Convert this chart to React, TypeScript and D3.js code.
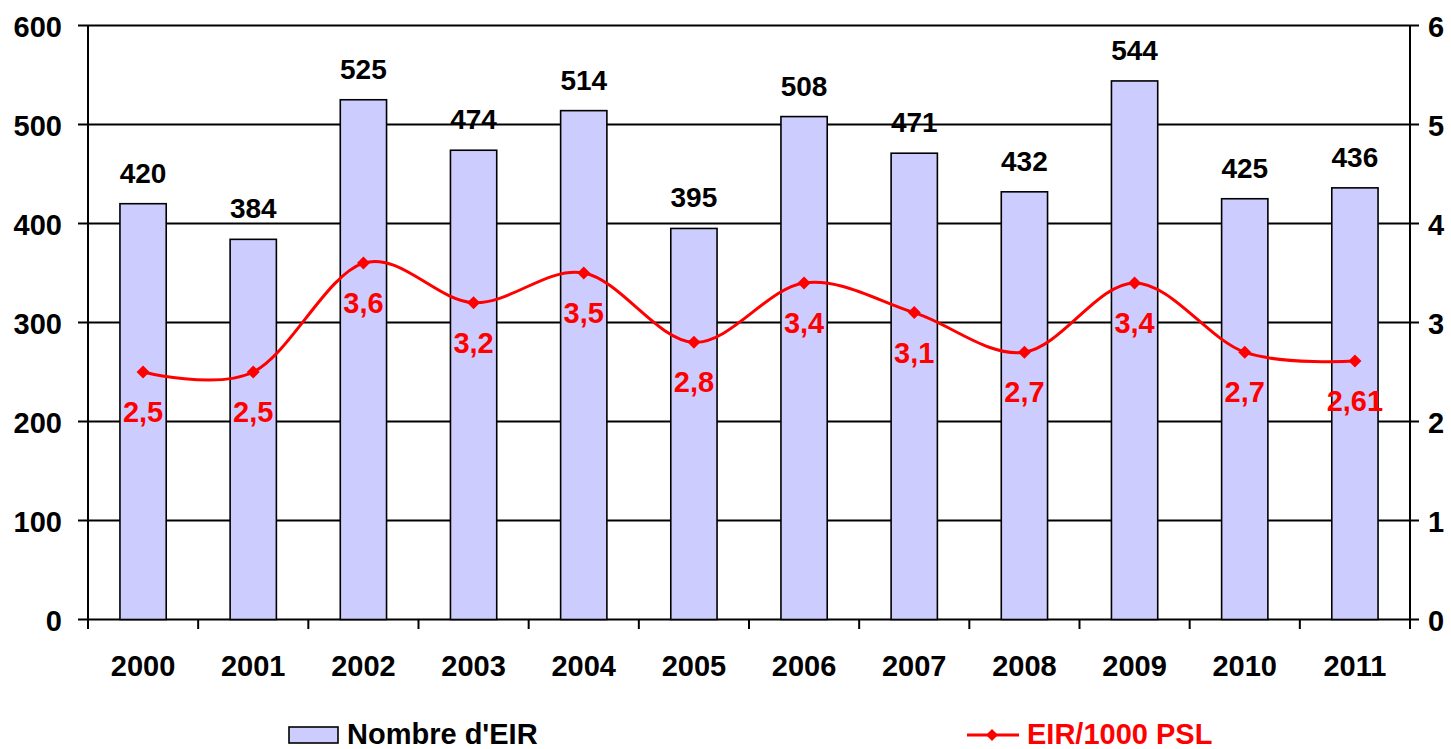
import React from "react";
import * as d3 from "d3";

const years = ["2000","2001","2002","2003","2004","2005","2006","2007","2008","2009","2010","2011"];
const counts = [420,384,525,474,514,395,508,471,432,544,425,436];
const rates = [2.5,2.5,3.6,3.2,3.5,2.8,3.4,3.1,2.7,3.4,2.7,2.61];
const rateLabels = ["2,5","2,5","3,6","3,2","3,5","2,8","3,4","3,1","2,7","3,4","2,7","2,61"];
const leftTicks = [0,100,200,300,400,500,600];
const rightTicks = [0,1,2,3,4,5,6];

const W = 1451, H = 749;
const L = 88, R = 1410, T = 25.5, B = 619.5;
const FONT = "'Liberation Sans', Arial, sans-serif";
const FS = 29;

export default function App() {
  const x = d3.scaleBand<string>().domain(years).range([L, R]).paddingInner(0).paddingOuter(0);
  const yL = d3.scaleLinear().domain([0, 600]).range([B, T]);
  const yR = d3.scaleLinear().domain([0, 6]).range([B, T]);
  const bw = x.bandwidth() * 0.42;
  const cx = (d: string) => (x(d) as number) + x.bandwidth() / 2;
  const line = d3.line<number>().x((_, i) => cx(years[i])).y(d => yR(d)).curve(d3.curveCardinal.tension(0));
  const diamond = (px: number, py: number, s = 6.5) => `M${px},${py - s}L${px + s},${py}L${px},${py + s}L${px - s},${py}Z`;
  const catTicks = years.map((_, i) => L + i * x.bandwidth()).concat([R]);

  return (
    <svg width={W} height={H} style={{ position: "absolute", left: 0, top: 0, background: "#fff" }} fontFamily={FONT} fontWeight="bold">
      {leftTicks.map(t => (
        <line key={"g" + t} x1={78} x2={1419} y1={yL(t)} y2={yL(t)} stroke="#000" strokeWidth={2} />
      ))}
      {counts.map((v, i) => (
        <rect key={"b" + i} x={cx(years[i]) - bw / 2} y={yL(v)} width={bw} height={B - yL(v)} fill="#CCCCFF" stroke="#000" strokeWidth={1.6} />
      ))}
      <line x1={L} x2={L} y1={T} y2={629} stroke="#000" strokeWidth={2} />
      <line x1={R} x2={R} y1={T} y2={629} stroke="#000" strokeWidth={2} />
      {catTicks.map((tx, i) => (
        <line key={"ct" + i} x1={tx} x2={tx} y1={B} y2={629} stroke="#000" strokeWidth={2} />
      ))}
      {leftTicks.map(t => (
        <text key={"ll" + t} x={62} y={yL(t) + 11} textAnchor="end" fontSize={FS}>{t}</text>
      ))}
      {rightTicks.map(t => (
        <text key={"rl" + t} x={1428} y={yR(t) + 11} textAnchor="start" fontSize={FS}>{t}</text>
      ))}
      {years.map(y => (
        <text key={"xl" + y} x={cx(y)} y={676} textAnchor="middle" fontSize={FS}>{y}</text>
      ))}
      {counts.map((v, i) => (
        <text key={"bv" + i} x={cx(years[i])} y={yL(v) - 21} textAnchor="middle" fontSize={FS - 1}>{v}</text>
      ))}
      <path d={line(rates) as string} fill="none" stroke="#FF0000" strokeWidth={3} />
      {rates.map((r, i) => (
        <path key={"m" + i} d={diamond(cx(years[i]), yR(r))} fill="#FF0000" />
      ))}
      {rates.map((r, i) => (
        <text key={"rv" + i} x={cx(years[i])} y={yR(r) + 50} textAnchor="middle" fontSize={FS} fill="#FF0000">{rateLabels[i]}</text>
      ))}
      <rect x={289} y={727} width={49} height={16} fill="#CCCCFF" stroke="#000" strokeWidth={1.6} />
      <text x={347} y={744} fontSize={FS}>Nombre d'EIR</text>
      <line x1={967} x2={1019} y1={735} y2={735} stroke="#FF0000" strokeWidth={3} />
      <path d={diamond(992, 735, 6)} fill="#FF0000" />
      <text x={1027} y={744} fontSize={FS} fill="#FF0000">EIR/1000 PSL</text>
    </svg>
  );
}
